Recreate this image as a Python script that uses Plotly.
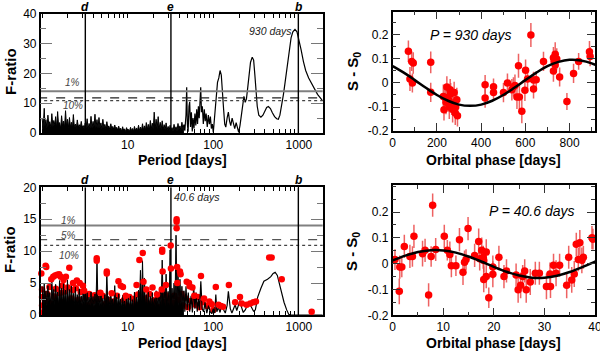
import math
import plotly.graph_objects as go

# ---------------- data ----------------
noise_period = [1.00, 1.03, 1.06, 1.08, 1.11, 1.14, 1.17, 1.20, 1.23, 1.27, 1.30, 1.34, 1.37, 1.41, 1.44, 1.48,
                1.52, 1.56, 1.60, 1.65, 1.69, 1.74, 1.78, 1.83, 1.88, 1.93, 1.98, 2.03, 2.09, 2.14, 2.20, 2.26,
                2.32, 2.38, 2.45, 2.51, 2.58, 2.65, 2.72, 2.79, 2.87, 2.94, 3.02, 3.10, 3.19, 3.27, 3.36, 3.45,
                3.54, 3.64, 3.73, 3.83, 3.94, 4.04, 4.15, 4.26, 4.38, 4.50, 4.62, 4.74, 4.87, 5.00, 5.13, 5.27,
                5.41, 5.56, 5.71, 5.86, 6.02, 6.18, 6.35, 6.52, 6.69, 6.87, 7.06, 7.25, 7.44, 7.64, 7.85, 8.06,
                8.28, 8.50, 8.73, 8.96, 9.20, 9.45, 9.71, 9.97, 10.2, 10.5, 10.8, 11.1, 11.4, 11.7, 12.0, 12.3,
                12.7, 13.0, 13.4, 13.7, 14.1, 14.5, 14.9, 15.3, 15.7, 16.1, 16.5, 17.0, 17.4, 17.9, 18.4, 18.9,
                19.4, 19.9, 20.4, 21.0, 21.5, 22.1, 22.7, 23.3, 24.0, 24.6, 25.3, 26.0, 26.7, 27.4, 28.1, 28.9,
                29.7, 30.5, 31.3, 32.1, 33.0, 33.9, 34.8, 35.7, 36.7, 37.7, 38.7, 39.7, 40.8, 41.9, 43.0, 44.2, 45.4]

top_noise_F = [5.0, 1.8, 8.3, 2.2, 4.5, 1.5, 6.0, 2.5, 3.8, 1.9, 6.5, 2.0, 4.2, 2.8, 5.5, 1.7,
               7.2, 2.4, 3.5, 1.6, 5.8, 2.1, 4.0, 1.9, 7.5, 2.3, 4.6, 1.8,
               5.2, 2.0, 3.6, 1.6, 6.2, 2.2, 3.0, 1.5, 4.4, 2.0, 2.8, 1.7, 3.9, 1.9, 2.5, 1.4, 3.3, 1.8,
               4.8, 1.4, 3.2, 1.8, 5.6, 1.6, 3.9, 2.0, 6.3, 1.7, 4.5, 1.5, 5.2, 1.8, 3.4, 1.3, 4.6, 1.6,
               2.9, 1.4, 3.8, 1.7, 2.4, 1.2, 3.1, 1.5, 2.2, 1.3, 2.7, 1.4, 1.9, 1.0, 2.3, 1.1,
               1.6, 0.6, 2.1, 0.8, 1.4, 0.5, 1.8, 0.7, 1.2, 0.6, 1.9, 0.8, 1.5, 0.6, 2.2, 0.9, 1.7, 0.7,
               2.6, 0.8, 2.0, 0.9, 3.1, 1.0,
               2.4, 0.9, 3.5, 1.3, 2.9, 1.0, 4.2, 1.5, 3.3, 1.1, 7.0, 1.7, 4.6, 1.4, 5.5, 1.6, 3.6, 1.0,
               4.1, 1.3, 2.8, 0.9, 3.4, 1.1, 2.2, 0.8,
               2.6, 0.9, 1.8, 0.6, 2.9, 1.0, 2.1, 0.7, 3.2, 1.1, 2.4, 0.8, 3.6, 1.2, 2.8]

top_long_period = [45.4, 46.5, 48.0, 48.9, 49.8, 50.8, 52.0, 53.0, 54.2, 55.5, 56.8, 58.0, 59.5, 61.0, 62.5,
                   64.0, 65.5, 67.0, 68.5, 70.0, 71.3, 72.8, 74.5, 76.5, 78.5, 80.5, 82.5, 85.0, 87.5, 90.0,
                   92.5, 95.0, 97.5, 100, 104, 108, 112, 116, 120, 124, 128, 132, 136, 140, 145, 150, 155,
                   160, 166, 172, 178, 185, 192, 198, 205, 212, 220, 228, 236, 244, 252, 262, 272, 285, 296,
                   306, 316, 326, 340, 360, 380, 400, 420, 440, 465, 490, 520, 550, 575, 600, 630, 660, 690,
                   730, 770, 810, 850, 900, 950, 1000, 1060, 1130, 1200, 1300, 1460, 1650, 1900]
top_long_F = [2.8, 0.8, 6.0, 15.4, 3.0, 0.4, 9.0, 10.5, 2.0, 7.0, 0.5, 5.0, 1.5, 6.5, 2.5,
              8.0, 3.0, 9.0, 5.0, 11.0, 15.4, 7.0, 9.0, 3.0, 8.0, 4.0, 6.5, 2.0, 6.0, 3.0,
              5.5, 1.5, 3.0, 0.2, 6.0, 13.0, 17.0, 18.5, 21.0, 19.5, 15.0, 8.0, 3.0, 2.0, 5.0, 7.0, 4.0,
              2.5, 5.0, 3.5, 1.5, 3.5, 1.5, 0.2, 2.5, 6.0, 10.0, 12.3, 10.3, 11.5, 15.0, 20.0, 23.7, 25.5, 24.5,
              19.5, 13.5, 9.0, 6.0, 5.3, 6.0, 7.6, 8.6, 8.9, 8.2, 6.8, 5.5, 4.8, 4.6, 6.0, 9.0, 13.0, 17.0,
              22.5, 28.0, 32.0, 34.0, 34.8, 34.0, 31.5, 28.0, 24.0, 21.0, 18.5, 16.0, 13.0, 10.8]

bot_noise_F = [4.5, 1.5, 5.0, 1.8, 3.8, 1.4, 4.6, 2.0, 3.5, 1.6, 5.2, 1.9, 4.0, 1.5, 4.8, 2.1,
               3.6, 1.4, 5.4, 1.8, 4.2, 1.6, 4.9, 2.0, 3.9, 1.5, 5.5, 1.7,
               4.0, 1.6, 4.7, 1.9, 3.4, 1.4, 4.4, 1.7, 3.2, 1.5, 4.1, 1.8, 3.0, 1.4, 3.8, 1.6, 4.5, 1.5,
               3.5, 1.5, 2.8, 1.4, 3.6, 1.7, 2.9, 1.3, 3.3, 1.6, 8.4, 1.8, 3.0, 1.4, 3.7, 1.6, 2.6, 1.3,
               3.2, 1.5, 6.6, 1.7, 2.9, 1.4, 3.4, 1.6, 2.5, 1.3, 4.6, 1.5, 2.8, 1.4, 3.3, 1.5,
               2.5, 1.1, 3.1, 1.3, 2.2, 1.0, 3.4, 1.4, 2.7, 1.1, 3.0, 1.3, 2.4, 1.0, 3.6, 1.4, 2.8, 1.3,
               3.9, 1.5, 7.0, 1.4, 8.5, 1.6,
               5.8, 1.4, 3.2, 1.2, 4.1, 1.5, 2.9, 1.3, 3.5, 1.4, 2.6, 1.2, 3.8, 1.5, 3.0, 1.3, 4.4, 1.4,
               8.6, 1.7, 4.0, 1.3, 6.4, 1.6, 3.7, 1.4,
               10.2, 1.5, 4.2, 1.3, 5.0, 1.6, 12.5, 1.8, 6.8, 1.4, 5.6, 1.5, 4.5, 1.3, 3.8]

bot_long_period = [45.4, 46.5, 48.0, 49.5, 51.0, 53.0, 55.0, 57.0, 59.0, 61.0, 63.0, 65.0, 67.0, 69.0, 71.5,
                   74.0, 77.0, 80.0, 84.0, 88.0, 92.0, 96.0, 100, 104, 107, 110, 115, 120, 126, 132, 138,
                   145, 150, 158, 165, 172, 180, 188, 196, 205, 214, 224, 236, 250, 265, 280, 295, 310,
                   330, 360, 390, 430, 470, 500, 528, 560, 600, 630, 670, 720, 760, 800, 1900]
bot_long_F = [3.8, 0.5, 4.5, 0.8, 3.5, 0.5, 3.0, 0.4, 4.5, 1.0, 3.5, 0.5, 2.5, 0.8, 5.3,
              1.0, 0.5, 2.0, 0.3, 1.5, 0.5, 0.2, 1.0, 0.3, 3.2, 0.5, 1.2, 0.4, 1.8, 0.8, 0.3,
              1.5, 3.7, 1.0, 0.3, 1.0, 1.6, 0.7, 1.5, 2.3, 1.2, 0.4, 0.8, 1.5, 1.8, 1.2, 0.6, 0.8,
              2.8, 4.2, 5.3, 5.6, 6.0, 6.5, 6.7, 6.2, 4.5, 3.5, 2.0, 0.8, 0.1, 0.0, 0.0]

red_peak_period = [0.98, 1.10, 1.12, 1.28, 1.35, 1.42, 1.50, 1.58, 1.65, 1.78, 1.90, 2.08, 2.30, 2.55, 2.75,
                   3.0, 3.1, 4.35, 4.35, 4.8, 5.7, 5.7, 6.5, 7.8, 8.3, 8.8, 9.5, 12.7, 13.7, 15.0, 15.3,
                   16.5, 19.5, 22.0, 25.3, 25.3, 25.6, 25.0, 28.0, 31.8, 32.0, 37.3, 37.3, 37.3, 37.8,
                   40.8, 41.5, 38.0, 48.9, 52.0, 53.0, 57.0, 60.0, 71.8, 78.0, 96.0, 107, 115, 122, 130,
                   152, 180, 205, 215, 245, 270, 294, 315, 450, 480, 630, 1410]
red_peak_F = [6.5, 7.7, 7.5, 5.6, 6.0, 6.2, 6.3, 6.4, 6.0, 5.5, 6.0, 7.4, 5.0, 5.4, 5.0,
              4.6, 3.8, 8.9, 8.5, 3.5, 6.8, 6.5, 3.4, 5.3, 4.6, 4.4, 3.0, 4.7, 8.6, 9.7, 5.2,
              4.0, 4.3, 3.2, 9.9, 10.2, 6.8, 4.0, 4.7, 10.9, 7.3, 15.0, 14.6, 13.6, 7.5,
              6.8, 6.4, 5.0, 5.2, 5.0, 4.5, 4.3, 3.0, 6.1, 2.6, 1.7, 4.4, 1.6, 1.4, 1.3,
              4.7, 2.0, 2.8, 1.8, 1.6, 1.8, 2.0, 2.1, 9.0, 9.0, 5.6, 0.5]

red_low_period = [1.0, 1.0, 1.0, 1.0, 1.05, 1.08, 1.15, 1.18, 1.22, 1.25, 1.32, 1.38, 1.45, 1.47, 1.55,
                  1.62, 1.70, 1.72, 1.82, 1.86, 1.95, 2.0, 2.12, 2.2, 2.28, 2.4, 2.48, 2.6, 2.68, 2.82,
                  2.9, 3.05, 3.25, 3.4, 3.55, 3.7, 3.9, 4.1, 4.2, 4.6, 4.9, 5.1, 5.4, 5.9, 6.2, 6.8,
                  7.1, 7.5, 8.1, 9.0, 9.8, 10.5, 11.2, 11.8, 12.4, 13.2, 14.4, 16.0, 17.2, 18.0, 18.8,
                  20.2, 21.2, 23.0, 24.2, 26.5, 27.8, 29.5, 30.3, 33.5, 35.0, 36.2, 39.0, 42.5, 44.5,
                  46.5, 50.5, 55.0, 62.0, 66.0, 69.0, 75.0, 85.0, 90.0, 100.0]
red_low_F = [0.3, 1.5, 2.8, 4.0, 0.5, 2.2, 3.3, 0.8, 4.4, 1.8, 0.4, 2.9, 4.1, 1.2, 0.6,
             3.4, 2.0, 4.6, 0.9, 3.7, 1.6, 4.3, 0.5, 2.6, 3.9, 1.1, 4.2, 0.7, 2.4, 3.6,
             1.3, 0.4, 2.7, 1.5, 3.3, 0.6, 2.2, 3.1, 1.0, 2.5, 0.8, 3.0, 1.7, 2.4, 0.9, 2.1,
             1.2, 3.0, 0.7, 2.3, 1.4, 2.8, 0.9, 2.5, 1.6, 3.2, 1.1, 2.6, 1.8, 3.3, 1.0,
             2.3, 1.4, 2.9, 1.2, 2.0, 3.1, 1.5, 2.6, 1.9, 3.0, 1.0, 2.4, 3.3, 1.5,
             2.7, 1.2, 2.2, 1.6, 2.8, 1.2, 2.0, 1.4, 2.1, 0.8]

planet_labels = ["d", "e", "b"]
planet_period = [3.2, 32.0, 985.0]
fap_labels = ["1%", "5%", "10%"]
fap_levels = [14.0, 11.8, 10.9]

tr_phase = [71, 78, 86, 93, 89, 172, 172, 229, 232, 241, 245, 252, 256, 260, 267, 271, 275, 278, 283, 290,
            293, 236, 262, 285, 418, 418, 456, 456, 501, 519, 539, 546, 553, 562, 569, 573, 584, 598, 601,
            625, 610, 637, 649, 637, 682, 727, 730, 735, 727, 735, 742, 755, 788, 818, 841, 890, 893]
tr_val = [0.132, 0.017, 0.09, 0.083, 0.0, 0.086, -0.039, -0.056, -0.111, -0.08, -0.017, -0.07, -0.1, -0.028,
          -0.083, -0.11, -0.085, -0.04, -0.125, -0.07, -0.136, -0.06, -0.045, -0.1, -0.007, -0.063, -0.016,
          -0.04, -0.04, 0.0, -0.028, -0.016, -0.01, -0.058, 0.072, -0.058, -0.118, -0.03, 0.053, 0.2, 0.017,
          0.012, 0.013, -0.025, 0.09, 0.105, 0.09, 0.12, 0.05, 0.075, 0.1, 0.025, -0.077, 0.04, 0.09, 0.13, 0.11]
tr_err = [0.045, 0.05, 0.04, 0.045, 0.04, 0.045, 0.04, 0.05, 0.045, 0.05, 0.045, 0.05, 0.05, 0.045,
          0.05, 0.055, 0.05, 0.045, 0.05, 0.05, 0.045, 0.05, 0.045, 0.05, 0.04, 0.04, 0.035, 0.035,
          0.04, 0.04, 0.045, 0.04, 0.045, 0.05, 0.05, 0.05, 0.05, 0.045, 0.045, 0.05, 0.04,
          0.035, 0.035, 0.04, 0.04, 0.045, 0.04, 0.05, 0.045, 0.04, 0.045, 0.04, 0.035, 0.04, 0.035, 0.045, 0.04]
tr_model_phase = [0, 50, 100, 150, 200, 250, 300, 350, 400, 450, 500, 550, 600, 650, 700, 750, 800, 850, 900, 930]
tr_model_val = [0.070, 0.043, 0.012, -0.020, -0.050, -0.074, -0.090, -0.095, -0.090, -0.074, -0.050, -0.020,
                0.012, 0.043, 0.070, 0.088, 0.0965, 0.094, 0.082, 0.069]

br_phase = [0.45, 1.3, 1.4, 1.8, 2.3, 3.4, 3.9, 4.2, 5.9, 6.4, 7.1, 7.6, 7.9, 8.5, 10.2, 10.8, 11.3, 11.6,
            12.5, 13.2, 13.9, 14.2, 14.5, 14.9, 16.2, 17.0, 17.2, 17.6, 17.9, 18.0, 18.0, 18.5, 18.5, 19.0,
            19.8, 19.8, 21.0, 22.0, 22.5, 24.4, 24.8, 25.3, 25.7, 26.1, 26.4, 27.2, 28.2, 29.0, 30.4, 31.2,
            31.1, 31.8, 32.3, 33.0, 34.4, 34.8, 35.4, 35.9, 36.3, 36.7, 37.0, 37.4, 37.7, 39.4, 39.6]
br_val = [0.016, -0.107, -0.013, -0.013, 0.067, 0.028, 0.028, 0.106, 0.039, 0.052, -0.121, 0.028, 0.227,
          0.055, 0.106, 0.052, 0.036, -0.008, -0.008, 0.093, -0.033, 0.006, 0.016, 0.136, 0.032, 0.086,
          0.019, 0.052, 0.025, -0.061, 0.012, 0.045, -0.05, -0.132, -0.013, -0.041, 0.025, -0.05, -0.028,
          -0.044, -0.101, -0.084, -0.05, -0.028, -0.101, -0.071, -0.037, -0.037, -0.088, -0.088, -0.04,
          -0.006, -0.037, -0.006, -0.084, 0.025, -0.063, -0.04, 0.075, 0.016, 0.081, 0.013, 0.025, 0.101, 0.095]
br_err = [0.04, 0.05, 0.045, 0.04, 0.045, 0.045, 0.04, 0.045, 0.05, 0.045, 0.045, 0.04, 0.045,
          0.045, 0.045, 0.04, 0.05, 0.045, 0.04, 0.045, 0.05, 0.045, 0.04, 0.045, 0.045, 0.05,
          0.045, 0.05, 0.045, 0.05, 0.045, 0.05, 0.045, 0.04, 0.045, 0.05, 0.045, 0.045, 0.045,
          0.045, 0.05, 0.05, 0.045, 0.045, 0.05, 0.05, 0.045, 0.045, 0.05, 0.045, 0.045,
          0.045, 0.05, 0.045, 0.05, 0.045, 0.05, 0.05, 0.045, 0.045, 0.05, 0.05, 0.045, 0.045, 0.04]
br_model_phase = [0, 2.5, 5, 7.5, 10, 12.5, 15, 17.5, 20, 22.5, 25, 27.5, 30, 32.5, 35, 37.5, 40, 40.6]
br_model_val = [0.0126, 0.0313, 0.0453, 0.0523, 0.0515, 0.0430, 0.0279, 0.0086, -0.0122, -0.0313, -0.0459,
                -0.0540, -0.0540, -0.0464, -0.0322, -0.0131, 0.0077, 0.0125]

# ---------------- layout helpers ----------------
W, H = 600, 353
def px(X):
    return X / W
def py(Y):
    return 1 - Y / H

FONT = "Liberation Sans, Arial, Helvetica, sans-serif"
RED = "#ff0000"
ERRC = "rgba(235,70,70,0.85)"

fig = go.Figure()

# ---- left panels (periodograms) ----
for (xa, ya, ymax, noiseF, longP, longF) in [("x", "y", 40, top_noise_F, top_long_period, top_long_F),
                                            ("x3", "y3", 20, bot_noise_F, bot_long_period, bot_long_F)]:
    if xa == "x3":
        fig.add_trace(go.Scatter(x=red_low_period, y=red_low_F, mode="markers", xaxis=xa, yaxis=ya,
                                 marker=dict(color=RED, size=6.5), cliponaxis=False, showlegend=False))
    fig.add_trace(go.Scatter(x=noise_period, y=noiseF, mode="lines", xaxis=xa, yaxis=ya,
                             line=dict(color="black", width=1), fill="tozeroy", fillcolor="black",
                             showlegend=False))
    fig.add_trace(go.Scatter(x=longP, y=longF, mode="lines", xaxis=xa, yaxis=ya,
                             line=dict(color="black", width=1.2), showlegend=False))
    styles = [dict(color="#808080", width=2, dash="solid"),
              dict(color="#222222" if xa == "x" else "#555555", width=1.3, dash="dash"),
              dict(color="#444444", width=1.3, dash="dot")]
    for lev, st in zip(fap_levels, styles):
        fig.add_trace(go.Scatter(x=[0.9, 2100], y=[lev, lev], mode="lines", xaxis=xa, yaxis=ya,
                                 line=st, showlegend=False))
    for p in planet_period:
        fig.add_trace(go.Scatter(x=[p, p], y=[0, ymax], mode="lines", xaxis=xa, yaxis=ya,
                                 line=dict(color="black", width=1.4), showlegend=False))
    if xa == "x3":
        fig.add_trace(go.Scatter(x=red_peak_period, y=red_peak_F, mode="markers", xaxis=xa, yaxis=ya,
                                 marker=dict(color=RED, size=6.5), cliponaxis=False, showlegend=False))

# ---- right panels (phase plots) ----
for (xa, ya, ph, val, err, mph, mval) in [("x2", "y2", tr_phase, tr_val, tr_err, tr_model_phase, tr_model_val),
                                         ("x4", "y4", br_phase, br_val, br_err, br_model_phase, br_model_val)]:
    fig.add_trace(go.Scatter(x=ph, y=val, mode="markers", xaxis=xa, yaxis=ya,
                             marker=dict(color=RED, size=7.5),
                             error_y=dict(type="data", array=err, visible=True, color=ERRC,
                                          thickness=1.5, width=0),
                             showlegend=False))
    fig.add_trace(go.Scatter(x=mph, y=mval, mode="lines", xaxis=xa, yaxis=ya, line_shape="spline",
                             line=dict(color="black", width=2.5), showlegend=False))

# ---------------- axes ----------------
log_ticks = [1, 2, 3, 4, 5, 6, 7, 8, 9, 10, 20, 30, 40, 50, 60, 70, 80, 90,
             100, 200, 300, 400, 500, 600, 700, 800, 900, 1000, 2000]
log_text = ["10" if v == 10 else "100" if v == 100 else "1000" if v == 1000 else " " for v in log_ticks]

common_axis = dict(showline=True, linecolor="black", linewidth=1.5, mirror="ticks", showgrid=False,
                   zeroline=False, ticks="inside", automargin=False, tickangle=0,
                   ticklabeloverflow="allow",
                   tickfont=dict(family=FONT, size=12, color="black"))

xl_dom = [px(40.7), px(322.7)]
xr_dom = [px(392.7), px(595)]

fig.update_layout(
    xaxis=dict(common_axis, domain=xl_dom, anchor="y", type="log", range=[-0.016, 3.278],
               tickvals=log_ticks, ticktext=log_text, ticklen=4, tickcolor="black"),
    yaxis=dict(common_axis, domain=[py(133), py(14)], anchor="x", range=[0, 40],
               tickvals=[0, 10, 20, 30, 40], ticklen=12, tickcolor="#777777",
               minor=dict(dtick=5, ticklen=6, tickcolor="#777777", ticks="inside")),
    xaxis3=dict(common_axis, domain=xl_dom, anchor="y3", type="log", range=[-0.016, 3.278],
                tickvals=log_ticks, ticktext=log_text, ticklen=4, tickcolor="black"),
    yaxis3=dict(common_axis, domain=[py(315), py(187.3)], anchor="x3", range=[0, 20],
                tickvals=[0, 5, 10, 15, 20], ticklen=12, tickcolor="#777777",
                minor=dict(dtick=2.5, ticklen=6, tickcolor="#777777", ticks="inside")),
    xaxis2=dict(common_axis, domain=xr_dom, anchor="y2", range=[0, 915],
                tickvals=[0, 200, 400, 600, 800], ticklen=8, tickcolor="#333333",
                minor=dict(dtick=100, ticklen=4, tickcolor="#333333", ticks="inside")),
    yaxis2=dict(common_axis, domain=[py(131), py(11.7)], anchor="x2", range=[-0.2, 0.297],
                tickvals=[-0.2, -0.1, 0, 0.1, 0.2], ticktext=["-0.2", "-0.1", "0", "0.1", "0.2"],
                ticklen=8, tickcolor="#333333",
                minor=dict(dtick=0.05, ticklen=4, tickcolor="#333333", ticks="inside")),
    xaxis4=dict(common_axis, domain=xr_dom, anchor="y4", range=[0, 40],
                tickvals=[0, 10, 20, 30, 40], ticklen=8, tickcolor="#333333",
                minor=dict(dtick=5, ticklen=4, tickcolor="#333333", ticks="inside")),
    yaxis4=dict(common_axis, domain=[py(315.3), py(185)], anchor="x4", range=[-0.2, 0.305],
                tickvals=[-0.2, -0.1, 0, 0.1, 0.2], ticktext=["-0.2", "-0.1", "0", "0.1", "0.2"],
                ticklen=8, tickcolor="#333333",
                minor=dict(dtick=0.05, ticklen=4, tickcolor="#333333", ticks="inside")),
)

# ---------------- annotations ----------------
ann = []
def A(text, X, Y, size, color="black", angle=0, xanchor="center", italic=False, bold=False):
    t = text
    if bold:
        t = "<b>" + t + "</b>"
    if italic:
        t = "<i>" + t + "</i>"
    ann.append(dict(text=t, x=px(X), y=py(Y), xref="paper", yref="paper", showarrow=False,
                    xanchor=xanchor, yanchor="middle", textangle=angle,
                    font=dict(family=FONT, size=size, color=color)))

A("F-ratio", 10, 72, 15, angle=-90, bold=True)
A("F-ratio", 10, 250, 15, angle=-90, bold=True)
A("Period [days]", 182, 160, 14, bold=True)
A("Period [days]", 182, 342.5, 14, bold=True)
A("S - S<sub>0</sub>", 353, 72, 15, angle=-90, bold=True)
A("S - S<sub>0</sub>", 353, 252, 15, angle=-90, bold=True)
A("Orbital phase [days]", 493, 160, 14, bold=True)
A("Orbital phase [days]", 493, 342.5, 14, bold=True)

for lab, p in zip(planet_labels, planet_period):
    for Y in (6.5, 180):
        ann.append(dict(text="<b><i>" + lab + "</i></b>", x=math.log10(p),
                        xref="x" if Y < 100 else "x3", y=py(Y), yref="paper", showarrow=False,
                        xanchor="center", yanchor="middle",
                        font=dict(family=FONT, size=12, color="black")))

A(fap_labels[0], 72, 82.5, 10, color="#444444", italic=True)
A(fap_labels[2], 73, 105.5, 10, color="#444444", italic=True)
A(fap_labels[0], 68.5, 221, 10, color="#444444", italic=True)
A(fap_labels[1], 68.5, 235, 10, color="#444444", italic=True)
A(fap_labels[2], 68.5, 255, 10, color="#444444", italic=True)

A("930 days", 270.5, 30.5, 10.5, color="#222222", italic=True)
A("40.6 days", 196.5, 196.5, 10.5, color="#222222", italic=True)
A("P = 930 days", 428, 34.5, 14, italic=True, xanchor="left")
A("P = 40.6 days", 486.5, 211, 14, italic=True, xanchor="left")

fig.update_layout(annotations=ann, width=W, height=H, margin=dict(l=0, r=0, t=0, b=0, autoexpand=False),
                  paper_bgcolor="white", plot_bgcolor="white", showlegend=False)

fig.write_html("out.html", config={"displayModeBar": False},
               post_script="document.body.style.margin='0px';document.body.style.overflow='hidden';")
